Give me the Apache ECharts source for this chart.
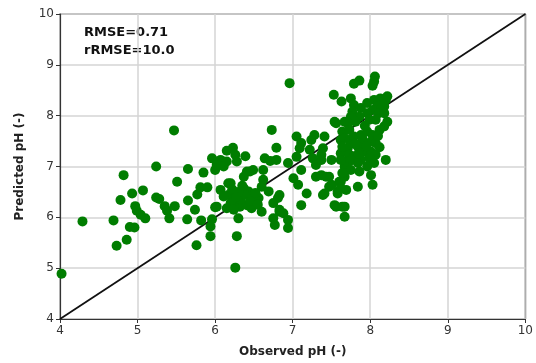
<!DOCTYPE html>
<html><head><meta charset="utf-8">
<script src="https://cdn.jsdelivr.net/npm/echarts@6/dist/echarts.min.js"></script>
<style>html,body{margin:0;padding:0;background:#fff}#c{width:536px;height:363px}</style>
</head><body><div id="c"></div>
<script>
const xTicks = [4, 5, 6, 7, 8, 9, 10];
const yTicks = [4, 5, 6, 7, 8, 9, 10];
const statsText = ["RMSE=0.71", "rRMSE=10.0"];
const xLabel = "Observed pH (-)";
const yLabel = "Predicted pH (-)";
const oneToOne = [[4, 4], [10, 10]];

// observed / predicted pairs
const pointsLow = [
[5.47,7.71],[5.24,7.00],[4.82,6.83],[5.65,6.95],[5.85,6.88],[5.96,7.16],[6.00,6.93],[5.51,6.70],[5.07,6.53],[4.93,6.47],
[4.78,6.34],[5.24,6.39],[5.28,6.36],[4.97,6.22],[4.99,6.13],[5.04,6.05],[5.10,5.98],[5.35,6.22],[5.38,6.13],[5.41,5.98],
[5.48,6.22],[5.65,6.33],[5.77,6.45],[5.81,6.59],[5.90,6.59],[5.74,6.15],[5.64,5.96],[5.82,5.94],[6.00,6.20],[5.96,5.96],
[5.94,5.82],[5.94,5.63],[4.29,5.92],[4.69,5.94],[4.90,5.81],[4.96,5.80],[4.86,5.56],[4.73,5.44],[5.76,5.45],[4.02,4.89],
[6.26,5.01],[6.28,5.63]
];
const pointsMid = [
[6.07,6.54],[6.17,6.67],[6.17,6.44],[6.30,5.98],[6.26,6.21],[6.60,6.11],
[6.73,7.72],[6.79,7.37],[6.23,7.37],[6.15,7.31],[6.26,7.23],[6.07,7.13],[6.15,7.10],[6.02,7.03],[6.11,7.00],[6.39,7.20],
[6.28,7.10],[6.64,7.16],[6.71,7.11],[6.41,6.90],[6.49,6.93],[6.62,6.93],[6.37,6.80],[6.20,6.67],[6.62,6.74],[6.60,6.60],
[6.69,6.51],[6.11,6.41],[6.26,6.41],[6.37,6.57],[6.43,6.51],[6.49,6.41],[6.56,6.38],[6.28,6.31],[6.20,6.28],[6.32,6.21],
[6.41,6.24],[6.47,6.18],[6.15,6.18],[6.02,6.21],[6.24,6.15],[6.75,6.28],[6.83,6.11],[6.77,5.85],
[6.33,6.35],[6.38,6.45],[6.45,6.32],[6.30,6.50],[6.22,6.55],[6.52,6.48],[6.35,6.62],[6.55,6.25],[6.27,6.40],[6.45,6.90]
];
const pointsUpper = [
[7.56,7.85],[7.67,7.88],[7.05,7.59],[7.28,7.62],[7.24,7.52],[7.11,7.46],[7.09,7.36],[7.22,7.33],[7.39,7.36],[7.37,7.23],
[7.50,7.13],[7.26,7.16],[7.30,7.03],[7.05,7.19],[6.94,7.07],[6.79,7.13],[7.11,6.93],[7.01,6.77],[7.30,6.80],[7.43,6.80],
[7.07,6.64],[7.18,6.47],[7.47,6.60],[7.39,6.44],[7.58,6.51],[7.62,6.70],[7.11,6.24],[6.83,6.44],[6.81,6.38],[7.56,6.21],
[7.67,6.21],[7.67,6.01],[6.83,6.15],[6.88,6.08],[6.94,5.95],[6.94,5.79],[6.75,5.98],[7.67,6.80],[7.69,6.54],[7.62,7.52],
[7.62,7.26],[7.71,7.13],[6.96,8.64]
];
const pointsDense = [
[8.06,8.77],[8.05,8.67],[8.03,8.59],[7.86,8.69],[7.79,8.63],[7.53,8.41],[7.63,8.28],[7.75,8.34],[7.79,8.21],[7.77,8.08],
[7.88,8.15],[7.96,8.25],[8.05,8.31],[8.13,8.34],[8.20,8.31],[8.18,8.18],[8.09,8.18],[8.03,8.11],[7.96,8.05],[8.11,8.05],
[8.18,8.05],[8.22,7.88],[8.18,7.79],[8.07,7.92],[7.99,7.92],[7.86,7.98],[7.81,7.88],[7.75,7.98],[7.71,7.85],[7.54,7.88],
[7.41,7.59],[7.64,7.69],[7.73,7.72],[7.67,7.56],[7.73,7.52],[7.79,7.59],[7.88,7.62],[7.96,7.69],[8.03,7.62],[8.01,7.49],
[8.07,7.46],[7.90,7.46],[7.84,7.39],[7.71,7.36],[7.64,7.39],[7.73,7.23],[7.79,7.20],[7.92,7.29],[8.01,7.29],[8.07,7.23],
[7.99,7.16],[7.88,7.13],[8.20,7.13],[8.05,7.07],[7.96,7.00],[7.84,7.07],[7.73,7.10],[7.67,7.00],[7.62,7.13],[7.75,6.93],
[7.86,6.90],[8.01,6.83],[8.03,6.64],[7.84,6.60],[7.64,6.87],[7.60,6.70],[7.62,6.57],[7.58,6.47],[7.50,6.64],[7.47,6.80],
[7.41,6.47],[7.54,6.24],[7.64,6.21],[7.37,6.83],[7.37,7.13],[8.22,8.38],[8.15,8.22],[8.12,7.72],[7.93,7.80],[8.10,7.60],
[7.90,7.55],[7.80,7.45],[7.85,7.25],[7.95,7.40],[8.12,7.38]
];

const allPoints = pointsLow.concat(pointsMid, pointsUpper, pointsDense);

const chart = echarts.init(document.getElementById('c'), null, {renderer: 'canvas'});
const FONT = 'DejaVu Sans';
function axisCommon(name, gap, rotate) {
  return {
    type: 'value', min: 4, max: 10, interval: 1,
    name: name, nameLocation: 'middle', nameGap: gap, nameRotate: rotate,
    nameTextStyle: {fontFamily: FONT, fontWeight: 'bold', fontSize: 12, color: '#222'},
    axisLine: {show: true, lineStyle: {color: '#333', width: 1.2}},
    axisTick: {show: true, length: 4, lineStyle: {color: '#333'}},
    axisLabel: {fontFamily: FONT, fontSize: 12, color: '#333', margin: 6},
    splitLine: {show: true, lineStyle: {color: '#d4d4d4', width: 1.5}}
  };
}
chart.setOption({
  animation: false,
  backgroundColor: '#fff',
  grid: {left: 60, right: 7, top: 14, bottom: 44, containLabel: false, show: true, borderColor: '#333', borderWidth: 1.2},
  xAxis: axisCommon(xLabel, 27, 0),
  yAxis: axisCommon(yLabel, 34, 90),
  graphic: [{
    type: 'text', left: 84, top: 24,
    style: {text: statsText.join('\n'), fontFamily: FONT, fontWeight: 'bold', fontSize: 13, lineHeight: 18, fill: '#111'}
  }],
  series: [
    {type: 'line', data: oneToOne, symbol: 'none', lineStyle: {color: '#111', width: 1.8}, z: 1, silent: true},
    {type: 'scatter', data: allPoints, symbol: 'circle', symbolSize: 10, itemStyle: {color: '#007d00', opacity: 1}, z: 2}
  ]
});
</script>
</body></html>
